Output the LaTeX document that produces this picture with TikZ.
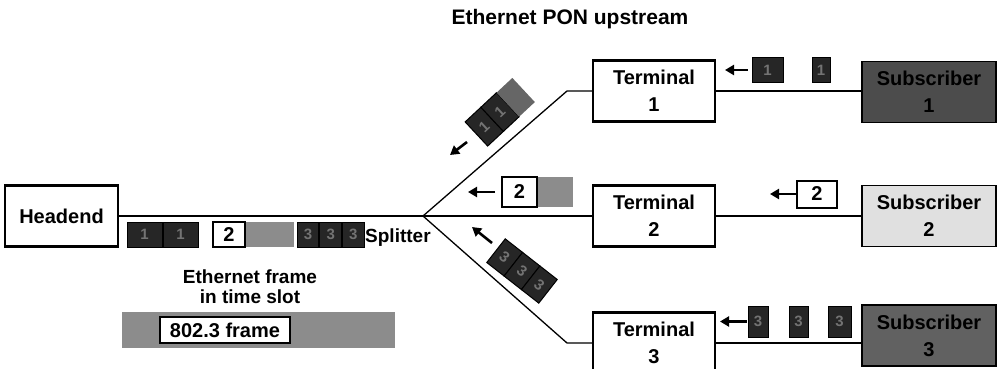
\documentclass[tikz,border=0pt]{standalone}
\usepackage{fontspec}
\setmainfont{Liberation Sans}
\usetikzlibrary{arrows.meta, positioning}

\begin{document}
\begin{tikzpicture}[x=1pt, y=-1pt,
        box/.style={rectangle, draw=black, line width=2.2pt, fill=white, align=center,
                    inner sep=0pt, font=\fontsize{20}{27}\selectfont\bfseries},
        term/.style={box, minimum width=122pt, minimum height=61pt},
        sub/.style={box, minimum width=134pt, minimum height=61pt, line width=1.6pt},
        cell/.style={rectangle, draw=black, line width=1pt, fill=black!85, text=black!55,
                     inner sep=0pt, font=\fontsize{15}{15}\selectfont\bfseries},
        slot/.style={rectangle, draw=black, line width=2pt, fill=white, inner sep=0pt,
                     font=\fontsize{20}{20}\selectfont\bfseries},
        pad/.style={rectangle, fill=black!45, inner sep=0pt},
        link/.style={line width=1.3pt},
        push/.style={line width=2.6pt, -{Triangle[length=9pt, width=10pt]}},
        lbl/.style={align=center, inner sep=0pt, font=\fontsize{19}{20}\selectfont\bfseries}]
      \useasboundingbox (0,0) rectangle (997,369);
      \clip (0,0) rectangle (997,369);
      \node[lbl, font=\fontsize{21}{22}\selectfont\bfseries] (title) at (570,19) {Ethernet PON upstream};
      % headend, terminals, subscribers
      \node[box, minimum width=113pt, minimum height=61pt] (head) at (61.5,216) {Headend};
      \node[term] (t1) at (654,91) {Terminal\\1};
      \node[term] (t2) at (654,216) {Terminal\\2};
      \node[term] (t3) at (654,343) {Terminal\\3};
      \node[sub, fill=black!70] (s1) at (929,92) {Subscriber\\1};
      \node[sub, fill=black!12] (s2) at (929,216) {Subscriber\\2};
      \node[sub, fill=black!62] (s3) at (929,335.5) {Subscriber\\3};
      % fibre and splitter
      \coordinate (split) at (423,216);
      \coordinate (bend1) at (567,91);
      \coordinate (bend3) at (567,343);
      \draw[link] (head) -- (split) -- (t2);
      \draw[link] (split) -- (bend1) -- (t1);
      \draw[link] (split) -- (bend3) -- (t3);
      \draw[link] (t1.east) -- (t1.east -| s1.west);
      \draw[link] (t2) -- (s2);
      \draw[link] (t3.east) -- (t3.east -| s3.west);
      % frames arriving at the headend
      \node[cell, minimum width=35pt, minimum height=25pt] (h1a) at (144.5,234.5) {1};
      \node[cell, minimum width=35pt, minimum height=25pt, right=0pt of h1a] (h1b) {1};
      \node[slot, minimum width=32pt, minimum height=25pt] (h2) at (229,234.5) {2};
      \node[pad, minimum width=48pt, minimum height=25pt, right=0pt of h2] (h2pad) {};
      \node[cell, minimum width=21.7pt, minimum height=25pt] (h3a) at (308,234.5) {3};
      \node[cell, minimum width=21.7pt, minimum height=25pt, right=0pt of h3a] (h3b) {3};
      \node[cell, minimum width=21.7pt, minimum height=25pt, right=0pt of h3b] (h3c) {3};
      \node[lbl, anchor=west] (spl) at (365,238) {Splitter};
      \node[lbl] (eframe) at (250,287) {Ethernet frame\\in time slot};
      \node[pad, minimum width=273pt, minimum height=36pt] (bar) at (258.5,330) {};
      \node[slot, minimum width=130pt, minimum height=26pt] (frame) at (225,330) {802.3 frame};
      % frames on the branches
      \node[slot, minimum width=35pt, minimum height=30pt] (m2) at (519.5,192) {2};
      \node[pad, minimum width=35pt, minimum height=30pt, right=0pt of m2] (m2pad) {};
      \coordinate (m2tip) at (468,192);
      \draw[push] ([xshift=-6pt]m2.west) -- (m2tip);
      \begin{scope}[shift={(500,112)}, rotate=43, transform shape]
        \node[cell, minimum width=21.5pt, minimum height=33pt] (u1a) at (-21.5,0) {1};
        \node[cell, minimum width=21.5pt, minimum height=33pt] (u1b) at (0,0) {1};
        \node[pad, fill=black!60, minimum width=21.5pt, minimum height=33pt] (u1pad) at (21.5,0) {};
      \end{scope}
      \coordinate (utail) at (467,142);
      \coordinate (utip) at (450,155);
      \draw[push] (utail) -- (utip);
      \begin{scope}[shift={(522,271)}, rotate=-38, transform shape]
        \node[cell, minimum width=22pt, minimum height=30pt] (l3a) at (-22,0) {3};
        \node[cell, minimum width=22pt, minimum height=30pt] (l3b) at (0,0) {3};
        \node[cell, minimum width=22pt, minimum height=30pt] (l3c) at (22,0) {3};
      \end{scope}
      \coordinate (ltail) at (492,243);
      \coordinate (ltip) at (472,227);
      \draw[push] (ltail) -- (ltip);
      % frames leaving the subscribers
      \node[cell, minimum width=31pt, minimum height=25pt] (r1a) at (767.5,70) {1};
      \node[cell, minimum width=18pt, minimum height=25pt] (r1b) at (821,70) {1};
      \coordinate (r1tip) at (725,70);
      \draw[push] ([xshift=-4pt]r1a.west) -- (r1tip);
      \node[slot, minimum width=40pt, minimum height=27pt] (r2) at (817,194) {2};
      \coordinate (r2tip) at (770,194);
      \draw[push] (r2.west) -- (r2tip);
      \node[cell, minimum width=20pt, minimum height=31pt] (r3a) at (758,321.5) {3};
      \node[cell, minimum width=19pt, minimum height=31pt] (r3b) at (798.5,321.5) {3};
      \node[cell, minimum width=23pt, minimum height=31pt] (r3c) at (839.5,321.5) {3};
      \coordinate (r3tip) at (720,321.5);
      \draw[push] ([xshift=-1pt]r3a.west) -- (r3tip);
    \end{tikzpicture}
\end{document}
